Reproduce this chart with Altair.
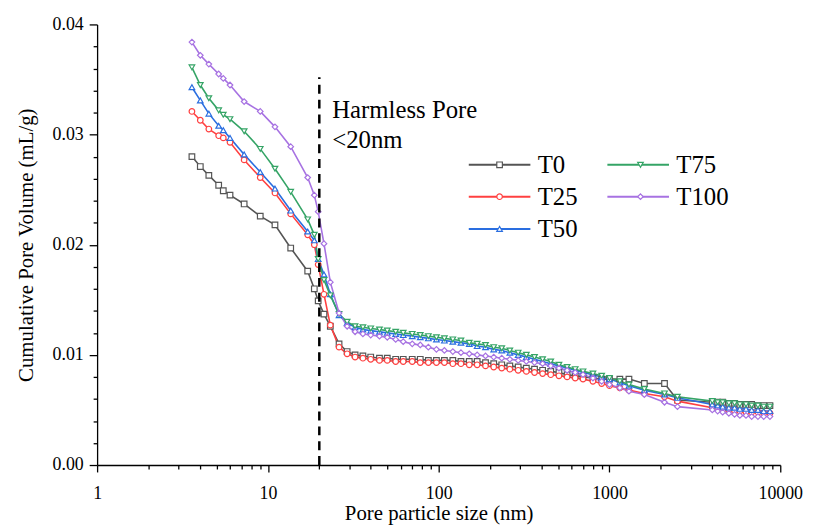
import altair as alt
import pandas as pd

# ---------------- data ----------------
pore_size = [3.59, 4.02, 4.51, 5.15, 5.48, 6.00, 7.26, 9.02, 11.0, 13.6, 17.1, 18.7, 19.7, 21.3, 23.2,
             26.1, 29.1, 32.4, 36, 40, 45, 50, 56, 62, 70,
             78, 87, 97, 108, 121, 135, 151, 168, 188, 210,
             234, 261, 292, 326, 364, 406, 453, 506, 565, 630,
             700, 800, 900, 1000, 1150, 1300, 1600, 2100, 2500, 4000,
             4300, 4600, 5000, 5400, 5800, 6300, 6800, 7400, 8000, 8700]

t0 = [0.0280, 0.0271, 0.0263, 0.0254, 0.0249, 0.0245, 0.0237, 0.0226, 0.0218, 0.0197, 0.0176, 0.0160, 0.0149, 0.0137, 0.0126,
      0.0110, 0.0103, 0.0100, 0.0099, 0.0098, 0.0097, 0.0097, 0.0096, 0.0096, 0.0096,
      0.0096, 0.0095, 0.0095, 0.0095, 0.0095, 0.0094, 0.0094, 0.0094, 0.0093, 0.0092,
      0.0091, 0.0090, 0.0089, 0.0088, 0.0087, 0.0086, 0.0085, 0.0084, 0.0082, 0.0081,
      0.0080, 0.0079, 0.0078, 0.0078, 0.0078, 0.0078, 0.0074, 0.0074, 0.0059, 0.0057,
      0.0057, 0.0057, 0.0056, 0.0056, 0.0055, 0.0055, 0.0055, 0.0054, 0.0054, 0.0054]

t25 = [0.0321, 0.0313, 0.0305, 0.0299, 0.0297, 0.0293, 0.0277, 0.0261, 0.0247, 0.0228, 0.0209, 0.0200, 0.0182, 0.0155, 0.0127,
       0.0107, 0.0101, 0.0098, 0.0097, 0.0096, 0.0095, 0.0095, 0.0094, 0.0094, 0.0094,
       0.0093, 0.0093, 0.0093, 0.0093, 0.0092, 0.0092, 0.0091, 0.0091, 0.0090, 0.0089,
       0.0088, 0.0087, 0.0086, 0.0085, 0.0084, 0.0083, 0.0082, 0.0081, 0.0080, 0.0079,
       0.0078, 0.0076, 0.0074, 0.0072, 0.0070, 0.0068, 0.0065, 0.0062, 0.0058, 0.0052,
       0.0051, 0.0050, 0.0050, 0.0049, 0.0049, 0.0048, 0.0048, 0.0048, 0.0047, 0.0047]

t50 = [0.0343, 0.0331, 0.0319, 0.0308, 0.0304, 0.0297, 0.0282, 0.0266, 0.0251, 0.0231, 0.0212, 0.0204, 0.0187, 0.0173, 0.0155,
       0.0136, 0.0129, 0.0125, 0.0123, 0.0122, 0.0121, 0.0120, 0.0119, 0.0118, 0.0117,
       0.0116, 0.0115, 0.0114, 0.0113, 0.0112, 0.0111, 0.0110, 0.0108, 0.0107, 0.0105,
       0.0104, 0.0102, 0.0100, 0.0098, 0.0096, 0.0094, 0.0092, 0.0090, 0.0088, 0.0086,
       0.0084, 0.0082, 0.0080, 0.0078, 0.0075, 0.0072, 0.0068, 0.0064, 0.0061, 0.0055,
       0.0054, 0.0053, 0.0052, 0.0052, 0.0051, 0.0051, 0.0050, 0.0050, 0.0049, 0.0049]

t75 = [0.0361, 0.0345, 0.0333, 0.0322, 0.0318, 0.0314, 0.0303, 0.0287, 0.0269, 0.0248, 0.0223, 0.0209, 0.0187, 0.0168, 0.0154,
       0.0137, 0.0130, 0.0126, 0.0125, 0.0124, 0.0123, 0.0122, 0.0121, 0.0120, 0.0119,
       0.0118, 0.0117, 0.0116, 0.0115, 0.0114, 0.0113, 0.0111, 0.0110, 0.0109, 0.0107,
       0.0106, 0.0104, 0.0102, 0.0100, 0.0098, 0.0096, 0.0094, 0.0091, 0.0089, 0.0087,
       0.0085, 0.0083, 0.0081, 0.0079, 0.0076, 0.0073, 0.0069, 0.0065, 0.0062, 0.0058,
       0.0057, 0.0057, 0.0056, 0.0056, 0.0055, 0.0055, 0.0054, 0.0054, 0.0053, 0.0053]

t100 = [0.0384, 0.0372, 0.0364, 0.0355, 0.0351, 0.0345, 0.0330, 0.0321, 0.0307, 0.0289, 0.0261, 0.0245, 0.0230, 0.0201, 0.0166,
        0.0138, 0.0126, 0.0121, 0.0119, 0.0118, 0.0117, 0.0116, 0.0114, 0.0112, 0.0110,
        0.0109, 0.0107, 0.0105, 0.0104, 0.0103, 0.0102, 0.0101, 0.0100, 0.0099, 0.0098,
        0.0097, 0.0096, 0.0095, 0.0094, 0.0093, 0.0092, 0.0090, 0.0088, 0.0086, 0.0084,
        0.0082, 0.0079, 0.0076, 0.0073, 0.0070, 0.0067, 0.0064, 0.0057, 0.0053, 0.0050,
        0.0049, 0.0048, 0.0047, 0.0046, 0.0045, 0.0045, 0.0044, 0.0044, 0.0044, 0.0044]

series_names = ["T0", "T25", "T50", "T75", "T100"]
series_values = [t0, t25, t50, t75, t100]
series_colors = ["#555555", "#ff4040", "#2a6ee0", "#35a466", "#a772e2"]
series_shapes = ["square", "circle", "triangle-up", "triangle-down", "diamond"]

x_major = [1, 10, 100, 1000, 10000]
x_minor = [m * d for d in [1, 10, 100, 1000] for m in range(2, 10)]
y_major = [0.0, 0.01, 0.02, 0.03, 0.04]
y_minor = [0.002, 0.004, 0.006, 0.008, 0.012, 0.014, 0.016, 0.018, 0.022, 0.024, 0.026, 0.028,
           0.032, 0.034, 0.036, 0.038]

threshold_x = 20
threshold_top = 0.0352
note_x = 23.8
note_y = 0.0315
note_text = "Harmless Pore\n<20nm"

rows = []
for name, vals in zip(series_names, series_values):
    for xv, yv in zip(pore_size, vals):
        rows.append({"size": xv, "vol": yv, "series": name})
df = pd.DataFrame(rows)

FONT = "Liberation Serif"
W, H = 690, 445

xscale = alt.Scale(type="log", domain=[1, 10000], nice=False)
yscale = alt.Scale(domain=[0, 0.04], nice=False, zero=False)

LEG_X, LEG_Y = 394, 129
SYM = 32
LABEL_OFF = 26
COL_PAD = 25
LABEL_W = 40.3   # approx. width of "T25"/"T50" at 25px

# horizontal line symbol that extends beyond the unit square (length = 11 * sqrt(size))
line_symbol_path = "M-11,0H11"

lines = alt.Chart(df).mark_line(strokeWidth=1.6).encode(
    x=alt.X("size:Q", scale=xscale,
            axis=alt.Axis(values=x_major, format="d", title="Pore particle size (nm)",
                          tickSize=7, labelPadding=13, titlePadding=0, grid=False)),
    y=alt.Y("vol:Q", scale=yscale,
            axis=alt.Axis(values=y_major, format=".2f", title="Cumulative Pore Volume (mL/g)",
                          tickSize=8, labelPadding=6, titlePadding=16, grid=False)),
    color=alt.Color("series:N", scale=alt.Scale(domain=series_names, range=series_colors),
                    legend=alt.Legend(orient="none", legendX=LEG_X, legendY=LEG_Y, columns=2,
                                      symbolType=line_symbol_path, symbolSize=SYM, symbolStrokeWidth=2,
                                      symbolFillColor="transparent",
                                      labelOffset=LABEL_OFF, columnPadding=COL_PAD, rowPadding=6.5,
                                      labelFontSize=25, labelFont=FONT, labelColor="black",
                                      title=None, padding=0)),
    order="size:Q",
)

point_legend = alt.Legend(orient="none", legendX=LEG_X, legendY=LEG_Y, columns=2,
                          symbolSize=SYM, symbolStrokeWidth=1.2, symbolFillColor="white",
                          labelExpr="''", labelOffset=LABEL_OFF,
                          columnPadding=COL_PAD + LABEL_OFF + LABEL_W, rowPadding=6.5,
                          labelFontSize=25, labelFont=FONT,
                          title=None, padding=0)

points = alt.Chart(df).mark_point(filled=False, fill="white", fillOpacity=1, size=32, strokeWidth=1.2, opacity=1).encode(
    x=alt.X("size:Q", scale=xscale,
            axis=alt.Axis(values=x_minor, labels=False, domain=False, title=None, tickSize=4, grid=False, orient="bottom")),
    y=alt.Y("vol:Q", scale=yscale,
            axis=alt.Axis(values=y_minor, labels=False, domain=False, title=None, tickSize=4, grid=False, orient="left")),
    color=alt.Color("series:N", scale=alt.Scale(domain=series_names, range=series_colors), legend=point_legend),
    shape=alt.Shape("series:N", scale=alt.Scale(domain=series_names, range=series_shapes), legend=point_legend),
)

rule_df = pd.DataFrame({"x": [threshold_x], "y0": [0.0], "y1": [threshold_top]})
rule = alt.Chart(rule_df).mark_rule(color="black", strokeWidth=2.5, strokeDash=[9, 6]).encode(
    x=alt.X("x:Q", scale=xscale, axis=None),
    y=alt.Y("y0:Q", scale=yscale, axis=None),
    y2="y1:Q",
)

note_df = pd.DataFrame({"x": [note_x], "y": [note_y], "t": [note_text]})
note = alt.Chart(note_df).mark_text(align="left", baseline="alphabetic", font=FONT, fontSize=25,
                                    lineBreak="\n", lineHeight=30, color="black").encode(
    x=alt.X("x:Q", scale=xscale, axis=None),
    y=alt.Y("y:Q", scale=yscale, axis=None),
    text="t:N",
)

chart = alt.layer(lines, points, rule, note).resolve_scale(
    color="independent", shape="independent"
).resolve_axis(
    x="independent", y="independent"
).resolve_legend(
    color="independent", shape="independent"
).properties(
    width=W, height=H,
    autosize=alt.AutoSizeParams(type="none"),
    padding={"left": 90, "top": 14, "right": 27, "bottom": 60},
    background="white",
).configure_view(stroke=None).configure_axis(
    labelFont=FONT, titleFont=FONT, labelFontSize=18, titleFontSize=21,
    labelColor="black", titleColor="black", tickColor="black", domainColor="black",
    tickWidth=1.3, domainWidth=1.3, titleFontWeight="normal", labelFlush=False, labelOverlap=False,
)

chart.save("out.html", embed_options={"renderer": "svg", "actions": False})
